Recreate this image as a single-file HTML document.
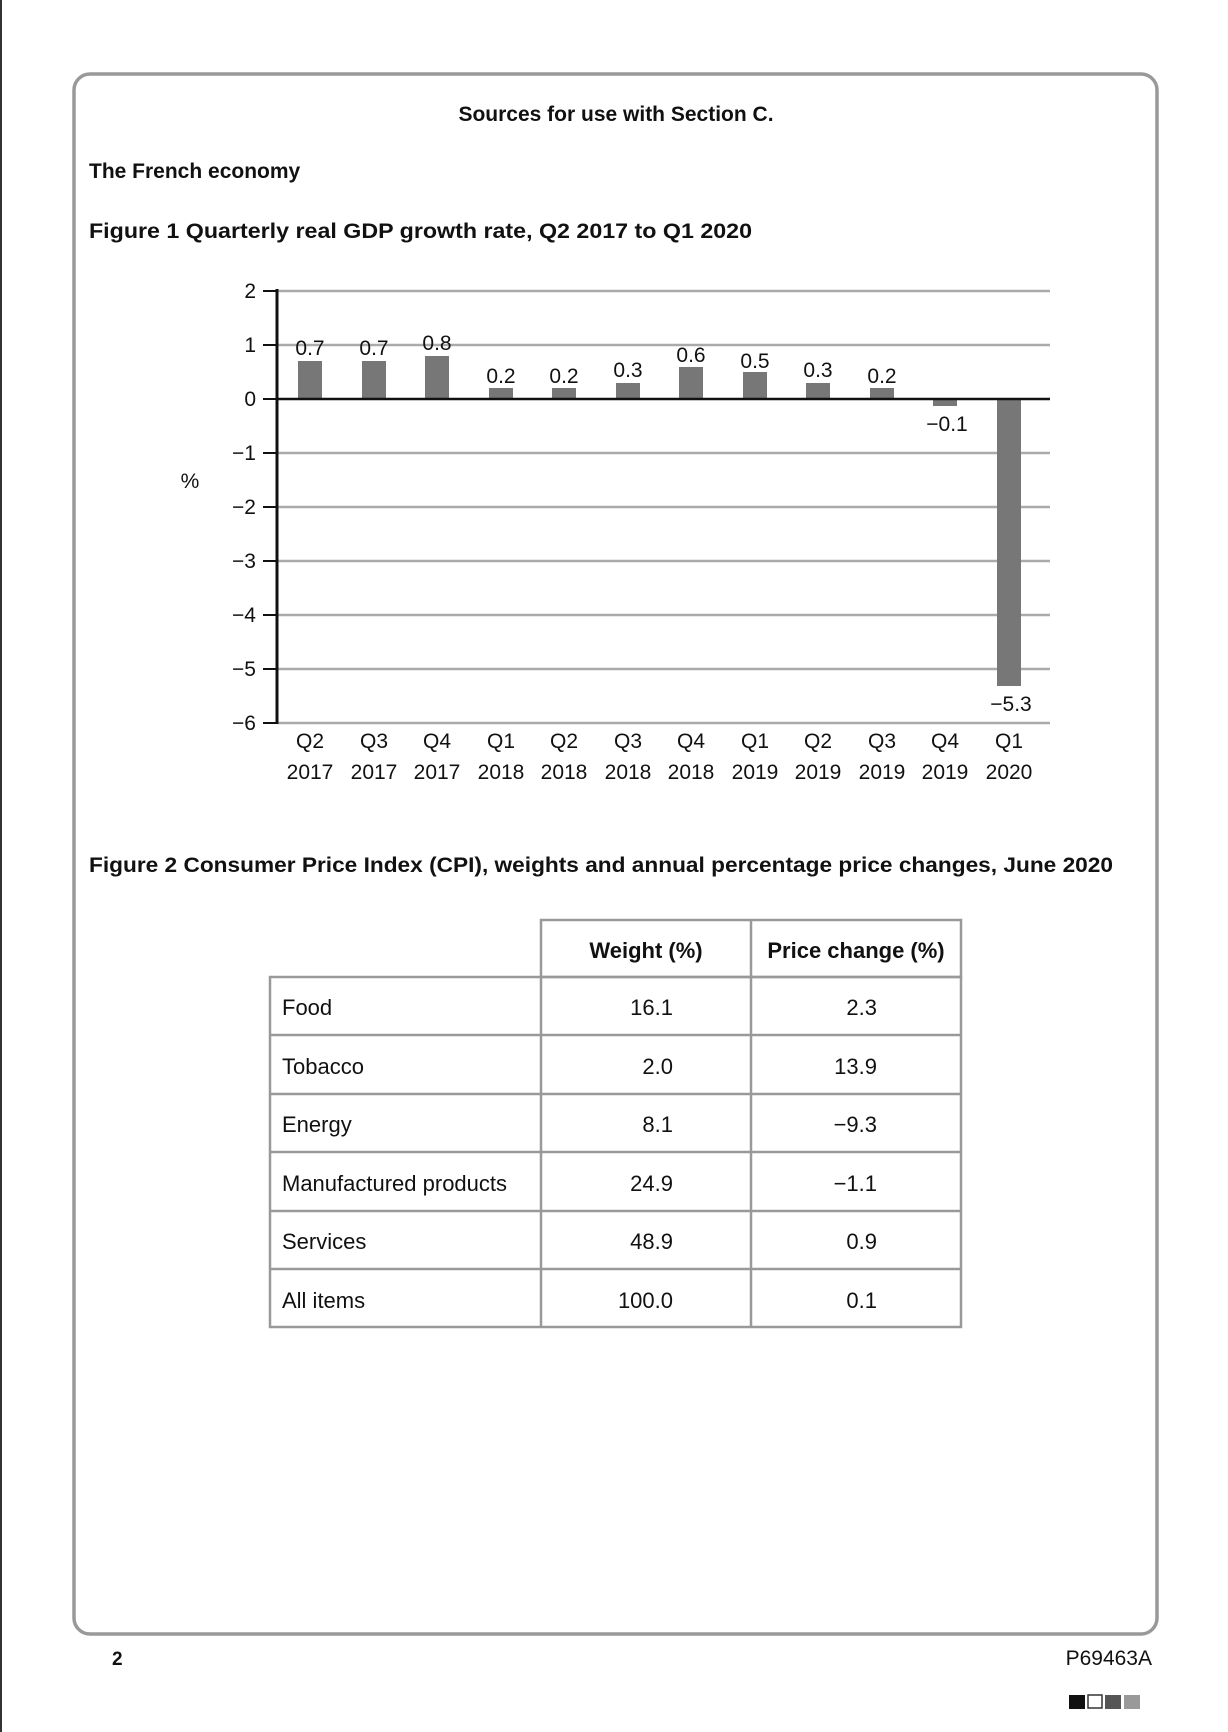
<!DOCTYPE html>
<html><head><meta charset="utf-8"><style>
html,body{margin:0;padding:0;background:#fff;}
svg{display:block;font-family:"Liberation Sans",sans-serif;}
</style></head><body>
<svg width="1228" height="1732" viewBox="0 0 1228 1732" xmlns="http://www.w3.org/2000/svg">
<rect x="0" y="0" width="2" height="1732" fill="#333"/>
<rect x="74" y="74" width="1083" height="1560" rx="16" fill="none" stroke="#999" stroke-width="3.5"/>
<text x="616" y="121" text-anchor="middle" font-size="21" font-weight="bold" fill="#111">Sources for use with Section C.</text>
<text x="89" y="178" font-size="21" font-weight="bold" fill="#111">The French economy</text>
<text x="89" y="238" font-size="21" font-weight="bold" fill="#111" textLength="663" lengthAdjust="spacingAndGlyphs">Figure 1 Quarterly real GDP growth rate, Q2 2017 to Q1 2020</text>
<g stroke="#aaa" stroke-width="2.5">
<line x1="277" y1="291" x2="1050" y2="291"/>
<line x1="277" y1="345" x2="1050" y2="345"/>
<line x1="277" y1="453" x2="1050" y2="453"/>
<line x1="277" y1="507" x2="1050" y2="507"/>
<line x1="277" y1="561" x2="1050" y2="561"/>
<line x1="277" y1="615" x2="1050" y2="615"/>
<line x1="277" y1="669" x2="1050" y2="669"/>
<line x1="277" y1="723" x2="1050" y2="723"/>
</g>
<g stroke="#111" stroke-width="2">
<line x1="263" y1="291" x2="277" y2="291"/><line x1="263" y1="345" x2="277" y2="345"/><line x1="263" y1="399" x2="277" y2="399"/><line x1="263" y1="453" x2="277" y2="453"/><line x1="263" y1="507" x2="277" y2="507"/><line x1="263" y1="561" x2="277" y2="561"/><line x1="263" y1="615" x2="277" y2="615"/><line x1="263" y1="669" x2="277" y2="669"/><line x1="263" y1="723" x2="277" y2="723"/>
</g>
<g font-size="21" fill="#111" text-anchor="end">
<text x="256" y="298">2</text><text x="256" y="352">1</text><text x="256" y="406">0</text><text x="256" y="460">−1</text><text x="256" y="514">−2</text><text x="256" y="568">−3</text><text x="256" y="622">−4</text><text x="256" y="676">−5</text><text x="256" y="730">−6</text>
</g>
<text x="190" y="488" font-size="21" fill="#111" text-anchor="middle">%</text>
<g fill="#777">
<rect x="298" y="361" width="24" height="38"/>
<rect x="362" y="361" width="24" height="38"/>
<rect x="425" y="356" width="24" height="43"/>
<rect x="489" y="388" width="24" height="11"/>
<rect x="552" y="388" width="24" height="11"/>
<rect x="616" y="383" width="24" height="16"/>
<rect x="679" y="367" width="24" height="32"/>
<rect x="743" y="372" width="24" height="27"/>
<rect x="806" y="383" width="24" height="16"/>
<rect x="870" y="388" width="24" height="11"/>
<rect x="933" y="399" width="24" height="7"/>
<rect x="997" y="399" width="24" height="287"/>
</g>
<line x1="277" y1="399" x2="1050" y2="399" stroke="#111" stroke-width="2.5"/>
<line x1="277" y1="289" x2="277" y2="724" stroke="#111" stroke-width="3"/>
<g font-size="21" fill="#111" text-anchor="middle">
<text x="310" y="355">0.7</text><text x="374" y="355">0.7</text><text x="437" y="350">0.8</text><text x="501" y="383">0.2</text><text x="564" y="383">0.2</text><text x="628" y="377">0.3</text><text x="691" y="362">0.6</text><text x="755" y="368">0.5</text><text x="818" y="377">0.3</text><text x="882" y="383">0.2</text><text x="947" y="431">−0.1</text><text x="1011" y="711">−5.3</text>
</g>
<g font-size="21" fill="#111" text-anchor="middle">
<text x="310" y="748">Q2</text><text x="374" y="748">Q3</text><text x="437" y="748">Q4</text><text x="501" y="748">Q1</text><text x="564" y="748">Q2</text><text x="628" y="748">Q3</text><text x="691" y="748">Q4</text><text x="755" y="748">Q1</text><text x="818" y="748">Q2</text><text x="882" y="748">Q3</text><text x="945" y="748">Q4</text><text x="1009" y="748">Q1</text>
<text x="310" y="779">2017</text><text x="374" y="779">2017</text><text x="437" y="779">2017</text><text x="501" y="779">2018</text><text x="564" y="779">2018</text><text x="628" y="779">2018</text><text x="691" y="779">2018</text><text x="755" y="779">2019</text><text x="818" y="779">2019</text><text x="882" y="779">2019</text><text x="945" y="779">2019</text><text x="1009" y="779">2020</text>
</g>
<text x="89" y="872" font-size="21" font-weight="bold" fill="#111" textLength="1024" lengthAdjust="spacingAndGlyphs">Figure 2 Consumer Price Index (CPI), weights and annual percentage price changes, June 2020</text>
<g stroke="#999" stroke-width="2.5" fill="none">
<rect x="541" y="920" width="420" height="57"/>
<line x1="751" y1="920" x2="751" y2="1327"/>
<rect x="270" y="977" width="691" height="350"/>
<line x1="541" y1="977" x2="541" y2="1327"/>
<line x1="270" y1="1035" x2="961" y2="1035"/>
<line x1="270" y1="1094" x2="961" y2="1094"/>
<line x1="270" y1="1152" x2="961" y2="1152"/>
<line x1="270" y1="1211" x2="961" y2="1211"/>
<line x1="270" y1="1269" x2="961" y2="1269"/>
</g>
<g font-size="22" fill="#111">
<text x="646" y="958" text-anchor="middle" font-weight="bold">Weight (%)</text>
<text x="856" y="958" text-anchor="middle" font-weight="bold">Price change (%)</text>
<text x="282" y="1015">Food</text><text x="282" y="1074">Tobacco</text><text x="282" y="1132">Energy</text><text x="282" y="1191">Manufactured products</text><text x="282" y="1249">Services</text><text x="282" y="1308">All items</text>
<g text-anchor="end">
<text x="673" y="1015">16.1</text><text x="673" y="1074">2.0</text><text x="673" y="1132">8.1</text><text x="673" y="1191">24.9</text><text x="673" y="1249">48.9</text><text x="673" y="1308">100.0</text>
<text x="877" y="1015">2.3</text><text x="877" y="1074">13.9</text><text x="877" y="1132">−9.3</text><text x="877" y="1191">−1.1</text><text x="877" y="1249">0.9</text><text x="877" y="1308">0.1</text>
</g>
</g>
<text x="112" y="1665" font-size="19" font-weight="bold" fill="#111">2</text>
<text x="1152" y="1665" font-size="21" fill="#111" text-anchor="end">P69463A</text>
<rect x="1069" y="1695" width="16" height="14" fill="#111"/>
<rect x="1088" y="1695" width="14" height="13" fill="#fff" stroke="#333" stroke-width="1.5"/>
<rect x="1105" y="1695" width="16" height="14" fill="#555"/>
<rect x="1124" y="1695" width="16" height="14" fill="#999"/>
</svg>
</body></html>
